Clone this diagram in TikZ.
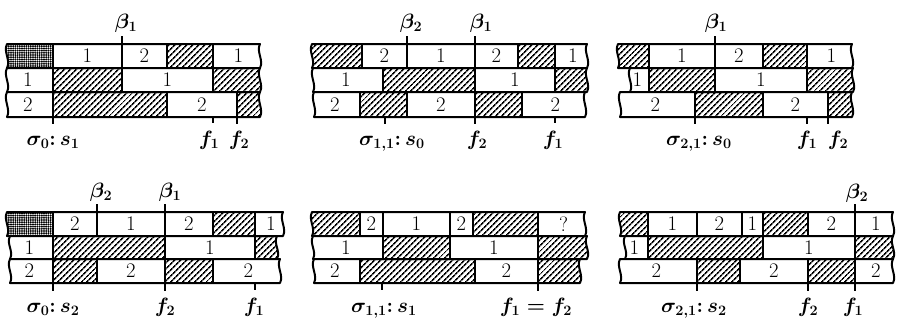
\documentclass[tikz,border=0pt]{standalone}
\usepackage{amsmath,amssymb}
\usetikzlibrary{patterns.meta}

% one strip of a schedule: xl, xr, y top, y bottom, cells x1/x2/kind/label
\newcommand{\gantrow}[5]{%
  \begin{scope}
    \clip (#1,#3) .. controls (#1-4,#3+8) and (#1+4,#4-8) .. (#1,#4) -- (#2,#4)
      .. controls (#2+4,#4-8) and (#2-4,#3+8) .. (#2,#3) -- cycle;
    \foreach \xa/\xb/\kind/\lab in {#5}
      \draw[cell,\kind] (\xa,#3) rectangle node[digit]{\lab} (\xb,#4);
  \end{scope}
  \draw[cell] (#1,#3) .. controls (#1-4,#3+8) and (#1+4,#4-8) .. (#1,#4) -- (#2,#4)
    .. controls (#2+4,#4-8) and (#2-4,#3+8) .. (#2,#3) -- cycle;
}
\newcommand{\tickline}[3]{\draw[cell] (#1,#2) -- (#1,#3);}

\begin{document}
\begin{tikzpicture}[x=1pt,y=-1pt,
  cell/.style={line width=2pt,line join=round},
  blank/.style={fill=white},
  hatch/.style={pattern={Lines[angle=45,distance=4pt,line width=1.7pt]}},
  speckle/.style={pattern={Dots[distance=2.2pt,radius=1.1pt]}},
  digit/.style={font=\huge,inner sep=0pt},
  lbl/.style={font=\huge\boldmath,anchor=base,inner sep=0pt}]
\useasboundingbox (0,0) rectangle (900,330);

% top left
\gantrow{7}{260}{44}{68}{3/53/speckle/{},53/122/blank/1,122/167/blank/2,167/213/hatch/{},213/264/blank/1}
\gantrow{7}{260}{68}{92}{3/53/blank/1,53/122/hatch/{},122/213/blank/1,213/264/hatch/{}}
\gantrow{7}{260}{92}{117}{3/53/blank/2,53/167/hatch/{},167/237/blank/2,237/264/hatch/{}}
\tickline{122}{36}{44} \tickline{53}{117}{124} \tickline{213}{117}{123} \tickline{237}{117}{124}
\node[lbl] (a-b1) at (126,28) {$\beta_1$};
\node[lbl] (a-s) at (53,145) {$\sigma_0{:}\,s_1$};
\node[lbl] (a-f1) at (209,145) {$f_1$};
\node[lbl] (a-f2) at (239,145) {$f_2$};

% top middle
\gantrow{312}{587}{44}{68}{308/362/hatch/{},362/407/blank/2,407/475/blank/1,475/518/blank/2,518/555/hatch/{},555/591/blank/1}
\gantrow{313}{587}{68}{92}{309/383/blank/1,383/475/hatch/{},475/555/blank/1,555/591/hatch/{}}
\gantrow{314}{585}{92}{117}{310/360/blank/2,360/407/hatch/{},407/475/blank/2,475/522/hatch/{},522/589/blank/2}
\tickline{407}{36}{44} \tickline{475}{36}{44}
\tickline{385}{117}{124} \tickline{475}{117}{124} \tickline{555}{117}{123}
\node[lbl] (b-b2) at (411,28) {$\beta_2$};
\node[lbl] (b-b1) at (481,28) {$\beta_1$};
\node[lbl] (b-s) at (392,145) {$\sigma_{1,1}{:}\,s_0$};
\node[lbl] (b-f2) at (477,145) {$f_2$};
\node[lbl] (b-f1) at (553,145) {$f_1$};

% top right
\gantrow{618}{852}{44}{68}{614/649/hatch/{},649/715/blank/1,715/763/blank/2,763/807/hatch/{},807/856/blank/1}
\gantrow{630}{853}{68}{92}{626/649/blank/1,649/715/hatch/{},715/807/blank/1,807/857/hatch/{}}
\gantrow{620}{852}{92}{117}{616/695/blank/2,695/763/hatch/{},763/828/blank/2,828/856/hatch/{}}
\tickline{715}{36}{44}
\tickline{695}{117}{124} \tickline{807}{117}{124} \tickline{828}{117}{124}
\node[lbl] (c-b1) at (716,28) {$\beta_1$};
\node[lbl] (c-s) at (699,145) {$\sigma_{2,1}{:}\,s_0$};
\node[lbl] (c-f1) at (807,145) {$f_1$};
\node[lbl] (c-f2) at (838,145) {$f_2$};

% bottom left
\gantrow{7}{283}{212}{236}{3/53/speckle/{},53/97/blank/2,97/165/blank/1,165/213/blank/2,213/255/hatch/{},255/287/blank/1}
\gantrow{10}{277}{236}{259}{6/53/blank/1,53/165/hatch/{},165/255/blank/1,255/281/hatch/{}}
\gantrow{10}{280}{259}{283}{6/53/blank/2,53/97/hatch/{},97/165/blank/2,165/213/hatch/{},213/284/blank/2}
\tickline{97}{204}{212} \tickline{165}{204}{212}
\tickline{53}{283}{291} \tickline{165}{283}{291} \tickline{255}{283}{290}
\node[lbl] (d-b2) at (101,197) {$\beta_2$};
\node[lbl] (d-b1) at (170,197) {$\beta_1$};
\node[lbl] (d-s) at (53,312) {$\sigma_0{:}\,s_2$};
\node[lbl] (d-f2) at (165,312) {$f_2$};
\node[lbl] (d-f1) at (254,312) {$f_1$};

% bottom middle
\gantrow{312}{585}{212}{236}{308/360/hatch/{},360/383/blank/2,383/450/blank/1,450/473/blank/2,473/538/hatch/{},538/589/blank/?}
\gantrow{313}{587}{236}{259}{309/383/blank/1,383/450/hatch/{},450/538/blank/1,538/591/hatch/{}}
\gantrow{314}{580}{259}{283}{310/360/blank/2,360/475/hatch/{},475/538/blank/2,538/584/hatch/{}}
\tickline{382}{283}{290} \tickline{538}{283}{291}
\node[lbl] (e-s) at (384,312) {$\sigma_{1,1}{:}\,s_1$};
\node[lbl] (e-f) at (536,312) {$f_1=f_2$};

% bottom right
\gantrow{620}{893}{212}{236}{616/648/hatch/{},648/697/blank/1,697/742/blank/2,742/763/blank/1,763/808/hatch/{},808/855/blank/2,855/897/blank/1}
\gantrow{625}{893}{236}{259}{621/648/blank/1,648/763/hatch/{},763/855/blank/1,855/897/hatch/{}}
\gantrow{620}{893}{259}{283}{616/697/blank/2,697/740/hatch/{},740/808/blank/2,808/855/hatch/{},855/897/blank/2}
\tickline{855}{204}{212}
\tickline{697}{283}{291} \tickline{808}{283}{291} \tickline{855}{283}{291}
\node[lbl] (f-b2) at (857,198) {$\beta_2$};
\node[lbl] (f-s) at (694,312) {$\sigma_{2,1}{:}\,s_2$};
\node[lbl] (f-f2) at (808,312) {$f_2$};
\node[lbl] (f-f1) at (853,312) {$f_1$};
\end{tikzpicture}
\end{document}
